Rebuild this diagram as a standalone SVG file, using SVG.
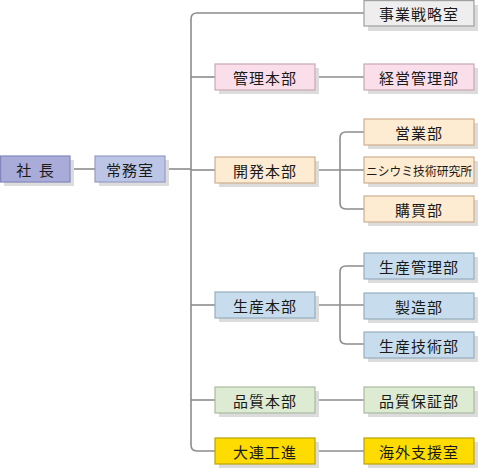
<svg xmlns="http://www.w3.org/2000/svg" width="479" height="469" viewBox="0 0 479 469">
<defs>
<style>
.sh{fill:#dcdcdc}
.b{stroke-width:1.2}
.t{font-family:"Noto Sans CJK JP","Noto Sans CJK SC",sans-serif;font-size:15px;fill:#1a1a1a;text-anchor:middle;dominant-baseline:central}
.ln{fill:none;stroke:#8c8c8c;stroke-width:1.6}
.c0{fill:#a9acd8;stroke:#8286bc}
.c1{fill:#bcc5e5;stroke:#949cc4}
.cg{fill:#eeeeee;stroke:#a0a0a0}
.cp{fill:#fadfea;stroke:#c8a8b6}
.co{fill:#fdebd2;stroke:#cdb090}
.cb{fill:#c7dded;stroke:#95aebe}
.cgr{fill:#dcebd2;stroke:#a9bba0}
.cy{fill:#ffdc00;stroke:#bba300}
</style>
</defs>
<g id="connectors">
<line class="ln" x1="70" y1="169" x2="95" y2="169"/>
<path class="ln" d="M165 169 H191"/>
<path class="ln" d="M364 13 H197 Q191 13 191 19 V445 Q191 451 197 451 H215"/>
<line class="ln" x1="191" y1="77" x2="215" y2="77"/>
<line class="ln" x1="191" y1="170" x2="215" y2="170"/>
<line class="ln" x1="191" y1="305" x2="215" y2="305"/>
<line class="ln" x1="191" y1="400" x2="215" y2="400"/>
<line class="ln" x1="315" y1="77" x2="364" y2="77"/>
<line class="ln" x1="315" y1="170" x2="364" y2="170"/>
<path class="ln" d="M364 132 H346 Q340 132 340 138 V203 Q340 209 346 209 H364"/>
<line class="ln" x1="315" y1="305" x2="364" y2="305"/>
<path class="ln" d="M364 266 H346 Q340 266 340 272 V338 Q340 344 346 344 H364"/>
<line class="ln" x1="315" y1="400" x2="364" y2="400"/>
<line class="ln" x1="315" y1="451" x2="364" y2="451"/>
</g>
<g id="n-shacho"><rect class="sh" x="4" y="160" width="70" height="26"/><rect class="b c0" x="0.6" y="156" width="69.4" height="26"/><text class="t" x="36" y="169" letter-spacing="2">社 長</text></g>
<g id="n-jomu"><rect class="sh" x="99" y="160" width="70" height="26"/><rect class="b c1" x="95" y="156" width="70" height="26"/><text class="t" x="130" y="169" letter-spacing="1">常務室</text></g>
<g id="n-jigyo"><rect class="sh" x="368" y="5" width="110" height="26"/><rect class="b cg" x="364" y="0.6" width="110" height="25.4"/><text class="t" x="419" y="13" letter-spacing="1">事業戦略室</text></g>
<g id="n-kanri"><rect class="sh" x="219" y="68" width="100" height="26"/><rect class="b cp" x="215" y="64" width="100" height="26"/><text class="t" x="265" y="77" letter-spacing="1">管理本部</text></g>
<g id="n-keiei"><rect class="sh" x="368" y="68" width="110" height="26"/><rect class="b cp" x="364" y="64" width="110" height="26"/><text class="t" x="419" y="77" letter-spacing="1">経営管理部</text></g>
<g id="n-kaihatsu"><rect class="sh" x="219" y="161" width="100" height="26"/><rect class="b co" x="215" y="157" width="100" height="26"/><text class="t" x="265" y="170" letter-spacing="1">開発本部</text></g>
<g id="n-eigyo"><rect class="sh" x="368" y="123" width="110" height="26"/><rect class="b co" x="364" y="119" width="110" height="26"/><text class="t" x="419" y="132" letter-spacing="1">営業部</text></g>
<g id="n-nishiumi"><rect class="sh" x="368" y="161" width="110" height="26"/><rect class="b co" x="364" y="157" width="110" height="26"/><text class="t" x="419" y="170" style="font-size:12.5px" textLength="106" lengthAdjust="spacingAndGlyphs">ニシウミ技術研究所</text></g>
<g id="n-kobai"><rect class="sh" x="368" y="200" width="110" height="26"/><rect class="b co" x="364" y="196" width="110" height="26"/><text class="t" x="419" y="209" letter-spacing="1">購買部</text></g>
<g id="n-seisan"><rect class="sh" x="219" y="296" width="100" height="26"/><rect class="b cb" x="215" y="292" width="100" height="26"/><text class="t" x="265" y="305" letter-spacing="1">生産本部</text></g>
<g id="n-seikan"><rect class="sh" x="368" y="257" width="110" height="26"/><rect class="b cb" x="364" y="253" width="110" height="26"/><text class="t" x="419" y="266" letter-spacing="1">生産管理部</text></g>
<g id="n-seizo"><rect class="sh" x="368" y="297" width="110" height="26"/><rect class="b cb" x="364" y="293" width="110" height="26"/><text class="t" x="419" y="306" letter-spacing="1">製造部</text></g>
<g id="n-seigi"><rect class="sh" x="368" y="336" width="110" height="26"/><rect class="b cb" x="364" y="332" width="110" height="26"/><text class="t" x="419" y="345" letter-spacing="1">生産技術部</text></g>
<g id="n-hinshitsu"><rect class="sh" x="219" y="391" width="100" height="26"/><rect class="b cgr" x="215" y="387" width="100" height="26"/><text class="t" x="265" y="400" letter-spacing="1">品質本部</text></g>
<g id="n-hinsho"><rect class="sh" x="368" y="391" width="110" height="26"/><rect class="b cgr" x="364" y="387" width="110" height="26"/><text class="t" x="419" y="400" letter-spacing="1">品質保証部</text></g>
<g id="n-dairen"><rect class="sh" x="219" y="442" width="100" height="26"/><rect class="b cy" x="215" y="438" width="100" height="26"/><text class="t" x="265" y="451" letter-spacing="1">大連工進</text></g>
<g id="n-kaigai"><rect class="sh" x="368" y="442" width="110" height="26"/><rect class="b cy" x="364" y="438" width="110" height="26"/><text class="t" x="419" y="451" letter-spacing="1">海外支援室</text></g>
</svg>
